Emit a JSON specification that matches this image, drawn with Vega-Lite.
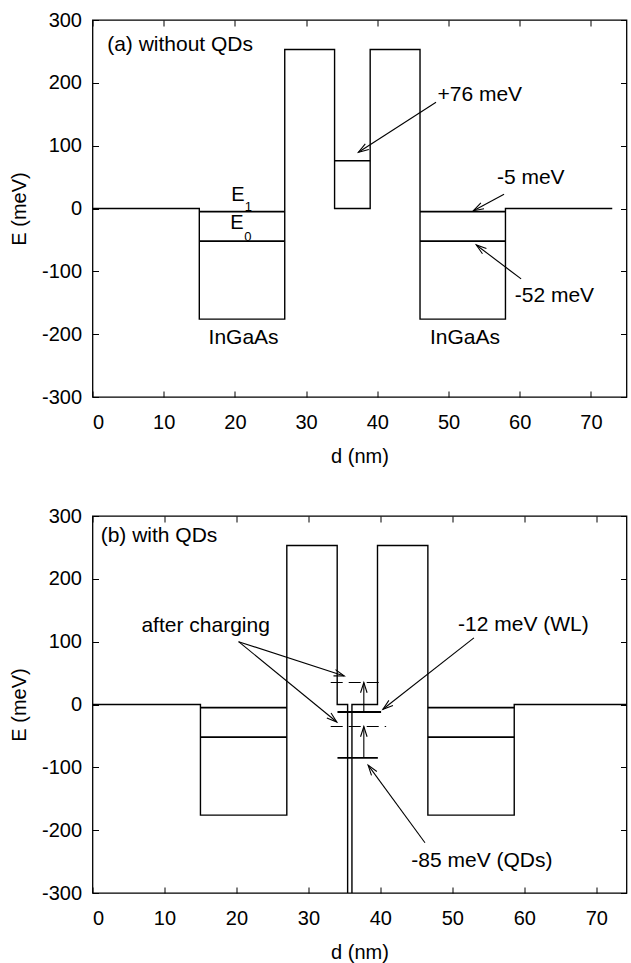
{
  "$schema": "https://vega.github.io/schema/vega-lite/v6.json",
  "padding": {"left": 8.5, "top": 9, "right": 0, "bottom": 5},
  "spacing": 38,
  "config": {
    "view": {"stroke": "black", "strokeWidth": 1.3},
    "axis": {"grid": false, "domain": false, "tickSize": -6, "tickColor": "black", "tickWidth": 1,
      "labelFont": "Liberation Sans", "labelFontSize": 20, "labelColor": "black",
      "labelExpr": "'' + datum.value",
      "titleFont": "Liberation Sans", "titleFontSize": 20, "titleFontWeight": "normal", "titleColor": "black"},
    "axisX": {"labelPadding": 21},
    "axisY": {"labelPadding": 17},
    "text": {"font": "Liberation Sans", "fontSize": 21, "color": "black"}
  },
  "datasets": {
    "profA": [
      {"i": 0, "d": 0, "E": 0}, {"i": 1, "d": 15, "E": 0}, {"i": 2, "d": 15, "E": -176}, {"i": 3, "d": 27, "E": -176},
      {"i": 4, "d": 27, "E": 253}, {"i": 5, "d": 34, "E": 253}, {"i": 6, "d": 34, "E": 0}, {"i": 7, "d": 39, "E": 0},
      {"i": 8, "d": 39, "E": 253}, {"i": 9, "d": 46, "E": 253}, {"i": 10, "d": 46, "E": -176}, {"i": 11, "d": 58, "E": -176},
      {"i": 12, "d": 58, "E": 0}, {"i": 13, "d": 73, "E": 0}
    ],
    "levA": [
      {"x1": 15, "x2": 27, "E": -5}, {"x1": 46, "x2": 58, "E": -5},
      {"x1": 15, "x2": 27, "E": -52}, {"x1": 46, "x2": 58, "E": -52},
      {"x1": 34, "x2": 39, "E": 76}
    ],
    "arrA": [
      {"x": 48.25, "y": 169, "x2": 37.35, "y2": 89.6, "ang": 147.3},
      {"x": 57.8, "y": 22.7, "x2": 53.5, "y2": -3.5, "ang": 151.7},
      {"x": 60.2, "y": -112, "x2": 53.9, "y2": -58, "ang": 217.1}
    ],
    "txtA": [
      {"t": "(a) without QDs", "x": 2.06, "y": 261},
      {"t": "+76 meV", "x": 48.45, "y": 180},
      {"t": "-5 meV", "x": 56.8, "y": 49},
      {"t": "-52 meV", "x": 59.3, "y": -138.5},
      {"t": "InGaAs", "x": 16.3, "y": -205.6},
      {"t": "InGaAs", "x": 47.4, "y": -205.6}
    ],
    "eA": [{"t": "E", "x": 19.5, "y": 12.7}, {"t": "E", "x": 19.35, "y": -32.3}],
    "subA": [{"t": "1", "x": 21.4, "y": -4.3}, {"t": "0", "x": 21.3, "y": -51}],
    "profB": [
      {"i": 0, "d": 0, "E": 0}, {"i": 1, "d": 15, "E": 0}, {"i": 2, "d": 15, "E": -176}, {"i": 3, "d": 27, "E": -176},
      {"i": 4, "d": 27, "E": 253}, {"i": 5, "d": 34, "E": 253}, {"i": 6, "d": 34, "E": 0}, {"i": 7, "d": 35.45, "E": 0},
      {"i": 8, "d": 35.45, "E": -330}, {"i": 9, "d": 36.05, "E": -330}, {"i": 10, "d": 36.05, "E": 0}, {"i": 11, "d": 39.6, "E": 0},
      {"i": 12, "d": 39.6, "E": 253}, {"i": 13, "d": 46.6, "E": 253}, {"i": 14, "d": 46.6, "E": -176}, {"i": 15, "d": 58.6, "E": -176},
      {"i": 16, "d": 58.6, "E": 0}, {"i": 17, "d": 74.2, "E": 0}
    ],
    "levB": [
      {"x1": 15, "x2": 27, "E": -5}, {"x1": 46.6, "x2": 58.6, "E": -5},
      {"x1": 15, "x2": 27, "E": -52}, {"x1": 46.6, "x2": 58.6, "E": -52},
      {"x1": 34.04, "x2": 40.1, "E": -12}, {"x1": 34.04, "x2": 39.65, "E": -85}
    ],
    "dashB": [{"x1": 33.1, "x2": 40.35, "E": 35}, {"x1": 33.1, "x2": 40.8, "E": -35}],
    "arrB": [
      {"x": 20.3, "y": 100, "x2": 34.98, "y2": 45.4, "ang": 18.1},
      {"x": 20.3, "y": 100, "x2": 33.95, "y2": -27.9, "ang": 39.6},
      {"x": 53.0, "y": 106, "x2": 40.35, "y2": -7.6, "ang": 141.6},
      {"x": 46.2, "y": -220, "x2": 38.3, "y2": -96.5, "ang": 234},
      {"x": 37.7, "y": -12, "x2": 37.7, "y2": 35, "ang": 270},
      {"x": 37.7, "y": -85, "x2": 37.7, "y2": -35, "ang": 270}
    ],
    "txtB": [
      {"t": "(b) with QDs", "x": 1.13, "y": 268},
      {"t": "after charging", "x": 6.8, "y": 124.8},
      {"t": "-12 meV (WL)", "x": 50.8, "y": 126.4},
      {"t": "-85 meV (QDs)", "x": 44.3, "y": -249.6}
    ]
  },
  "vconcat": [
    {
      "width": 534, "height": 377,
      "resolve": {"axis": {"x": "independent", "y": "independent"}},
      "layer": [
        {
          "data": {"name": "profA"},
          "mark": {"type": "line", "color": "black", "strokeWidth": 1.4, "clip": true},
          "encoding": {
            "x": {"field": "d", "type": "quantitative", "scale": {"domain": [0, 75], "nice": false, "zero": false},
              "axis": {"orient": "bottom", "values": [0, 10, 20, 30, 40, 50, 60, 70], "title": "d (nm)", "titlePadding": 14}},
            "y": {"field": "E", "type": "quantitative", "scale": {"domain": [-300, 300], "nice": false, "zero": false},
              "axis": {"orient": "left", "values": [-300, -200, -100, 0, 100, 200, 300], "title": "E (meV)", "titlePadding": 12}},
            "order": {"field": "i"}
          }
        },
        {
          "data": {"name": "levA"},
          "mark": {"type": "rule", "color": "black", "strokeWidth": 1.7},
          "encoding": {
            "x": {"field": "x1", "type": "quantitative", "axis": {"orient": "top", "values": [0, 10, 20, 30, 40, 50, 60, 70], "labels": false, "title": null}},
            "x2": {"field": "x2"},
            "y": {"field": "E", "type": "quantitative", "axis": {"orient": "right", "values": [-300, -200, -100, 0, 100, 200, 300], "labels": false, "title": null}}
          }
        },
        {
          "data": {"name": "arrA"},
          "mark": {"type": "rule", "color": "black", "strokeWidth": 1.1},
          "encoding": {
            "x": {"field": "x", "type": "quantitative", "axis": null},
            "y": {"field": "y", "type": "quantitative", "axis": null},
            "x2": {"field": "x2"}, "y2": {"field": "y2"}
          }
        },
        {
          "data": {"name": "arrA"},
          "mark": {"type": "point", "shape": "M -1 -0.32 L 0 0 L -1 0.32", "filled": false, "stroke": "black", "strokeWidth": 1.1, "size": 420, "opacity": 1},
          "encoding": {
            "x": {"field": "x2", "type": "quantitative", "axis": null},
            "y": {"field": "y2", "type": "quantitative", "axis": null},
            "angle": {"field": "ang", "type": "quantitative", "scale": null}
          }
        },
        {
          "data": {"name": "txtA"},
          "mark": {"type": "text", "align": "left", "baseline": "middle"},
          "encoding": {
            "x": {"field": "x", "type": "quantitative", "axis": null},
            "y": {"field": "y", "type": "quantitative", "axis": null},
            "text": {"field": "t"}
          }
        },
        {
          "data": {"name": "eA"},
          "mark": {"type": "text", "align": "left", "baseline": "alphabetic", "fontSize": 20},
          "encoding": {
            "x": {"field": "x", "type": "quantitative", "axis": null},
            "y": {"field": "y", "type": "quantitative", "axis": null},
            "text": {"field": "t"}
          }
        },
        {
          "data": {"name": "subA"},
          "mark": {"type": "text", "align": "left", "baseline": "alphabetic", "fontSize": 13},
          "encoding": {
            "x": {"field": "x", "type": "quantitative", "axis": null},
            "y": {"field": "y", "type": "quantitative", "axis": null},
            "text": {"field": "t"}
          }
        }
      ]
    },
    {
      "width": 534, "height": 377,
      "resolve": {"axis": {"x": "independent", "y": "independent"}},
      "layer": [
        {
          "data": {"name": "profB"},
          "mark": {"type": "line", "color": "black", "strokeWidth": 1.4, "clip": true},
          "encoding": {
            "x": {"field": "d", "type": "quantitative", "scale": {"domain": [0, 74.2], "nice": false, "zero": false},
              "axis": {"orient": "bottom", "values": [0, 10, 20, 30, 40, 50, 60, 70], "title": "d (nm)", "titlePadding": 14}},
            "y": {"field": "E", "type": "quantitative", "scale": {"domain": [-300, 300], "nice": false, "zero": false},
              "axis": {"orient": "left", "values": [-300, -200, -100, 0, 100, 200, 300], "title": "E (meV)", "titlePadding": 12}},
            "order": {"field": "i"}
          }
        },
        {
          "data": {"name": "levB"},
          "mark": {"type": "rule", "color": "black", "strokeWidth": 1.9},
          "encoding": {
            "x": {"field": "x1", "type": "quantitative", "axis": {"orient": "top", "values": [0, 10, 20, 30, 40, 50, 60, 70], "labels": false, "title": null}},
            "x2": {"field": "x2"},
            "y": {"field": "E", "type": "quantitative", "axis": {"orient": "right", "values": [-300, -200, -100, 0, 100, 200, 300], "labels": false, "title": null}}
          }
        },
        {
          "data": {"name": "dashB"},
          "mark": {"type": "rule", "color": "black", "strokeWidth": 1.2, "strokeDash": [12, 6]},
          "encoding": {
            "x": {"field": "x1", "type": "quantitative", "axis": null},
            "x2": {"field": "x2"},
            "y": {"field": "E", "type": "quantitative", "axis": null}
          }
        },
        {
          "data": {"name": "arrB"},
          "mark": {"type": "rule", "color": "black", "strokeWidth": 1.1},
          "encoding": {
            "x": {"field": "x", "type": "quantitative", "axis": null},
            "y": {"field": "y", "type": "quantitative", "axis": null},
            "x2": {"field": "x2"}, "y2": {"field": "y2"}
          }
        },
        {
          "data": {"name": "arrB"},
          "mark": {"type": "point", "shape": "M -1 -0.32 L 0 0 L -1 0.32", "filled": false, "stroke": "black", "strokeWidth": 1.1, "size": 420, "opacity": 1},
          "encoding": {
            "x": {"field": "x2", "type": "quantitative", "axis": null},
            "y": {"field": "y2", "type": "quantitative", "axis": null},
            "angle": {"field": "ang", "type": "quantitative", "scale": null}
          }
        },
        {
          "data": {"name": "txtB"},
          "mark": {"type": "text", "align": "left", "baseline": "middle"},
          "encoding": {
            "x": {"field": "x", "type": "quantitative", "axis": null},
            "y": {"field": "y", "type": "quantitative", "axis": null},
            "text": {"field": "t"}
          }
        }
      ]
    }
  ]
}
